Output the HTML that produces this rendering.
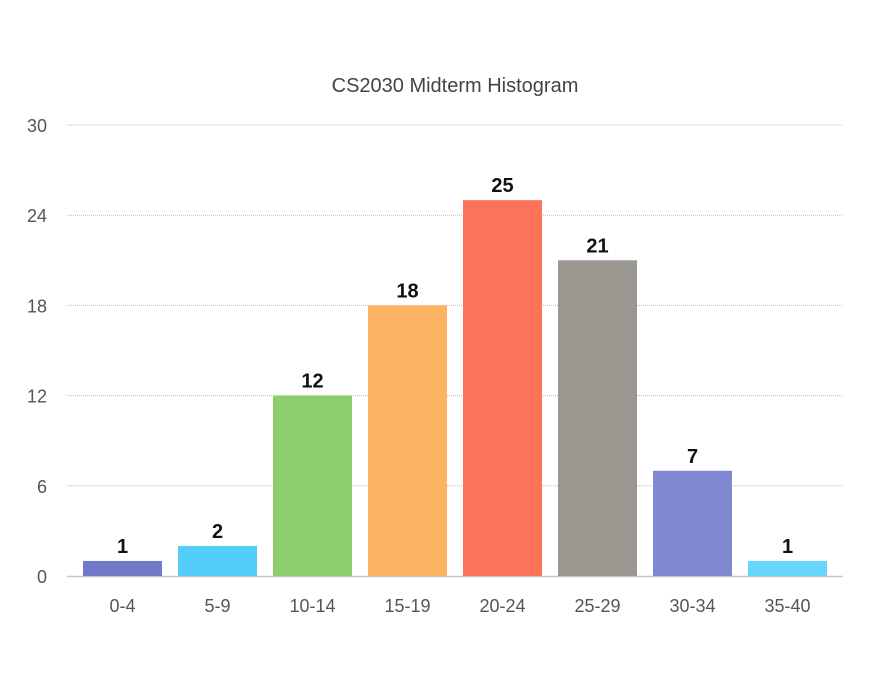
<!DOCTYPE html>
<html><head><meta charset="utf-8"><style>
body{margin:0;background:#fff;}
svg{display:block;font-family:"Liberation Sans",sans-serif;}
</style></head><body>
<svg id="chart" width="887" height="687">
<text x="455" y="92" text-anchor="middle" font-size="20" fill="#444">CS2030 Midterm Histogram</text>
<g id="grid"></g><g id="bars"></g>
</svg>
<script>
const categories=["0-4","5-9","10-14","15-19","20-24","25-29","30-34","35-40"];
const counts=[1,2,12,18,25,21,7,1];
const yTicks=[0,6,12,18,24,30];
const colors=["#7079c8","#54cdfb","#8dcf6c","#fdb462","#fc735a","#9a9690","#8088d2","#66d6fc"];
const ns="http://www.w3.org/2000/svg";
const svg=document.getElementById('chart');
const y0=576,y1=125,yMax=30;
const y=v=>y0-(v/yMax)*(y0-y1);
const x=i=>83+i*95;
const bw=79;
function mk(t,a,p){const e=document.createElementNS(ns,t);for(const k in a)e.setAttribute(k,a[k]);(p||svg).appendChild(e);return e;}
const g=document.getElementById('grid');
yTicks.forEach(t=>{
  if(t>0){const l=mk('line',{x1:67,x2:843,y1:y(t),y2:y(t),stroke:'#bbb','stroke-dasharray':'1,1','stroke-width':1},g);
  
  }
  const tx=mk('text',{x:47,y:y(t)+7,'text-anchor':'end','font-size':18,fill:'#555'},g);
  tx.textContent=t;
  
  
});
const ax=mk('line',{x1:67,x2:843,y1:y0+0.5,y2:y0+0.5,stroke:'#c8c8c8','stroke-width':1.5},g);


const bg=document.getElementById('bars');
categories.forEach((c,i)=>{
  const v=counts[i];
  const r=mk('rect',{x:x(i),y:y(v),width:bw,height:y0-y(v),fill:colors[i]},bg);
  
  
  const lb=mk('text',{x:x(i)+bw/2,y:y(v)-8,'text-anchor':'middle','font-size':20,'font-weight':'bold',fill:'#111'},bg);
  lb.textContent=v;
  
  
  const xl=mk('text',{x:x(i)+bw/2,y:612,'text-anchor':'middle','font-size':18,fill:'#555'},bg);
  xl.textContent=c;
  
  
});
</script>
</body></html>
